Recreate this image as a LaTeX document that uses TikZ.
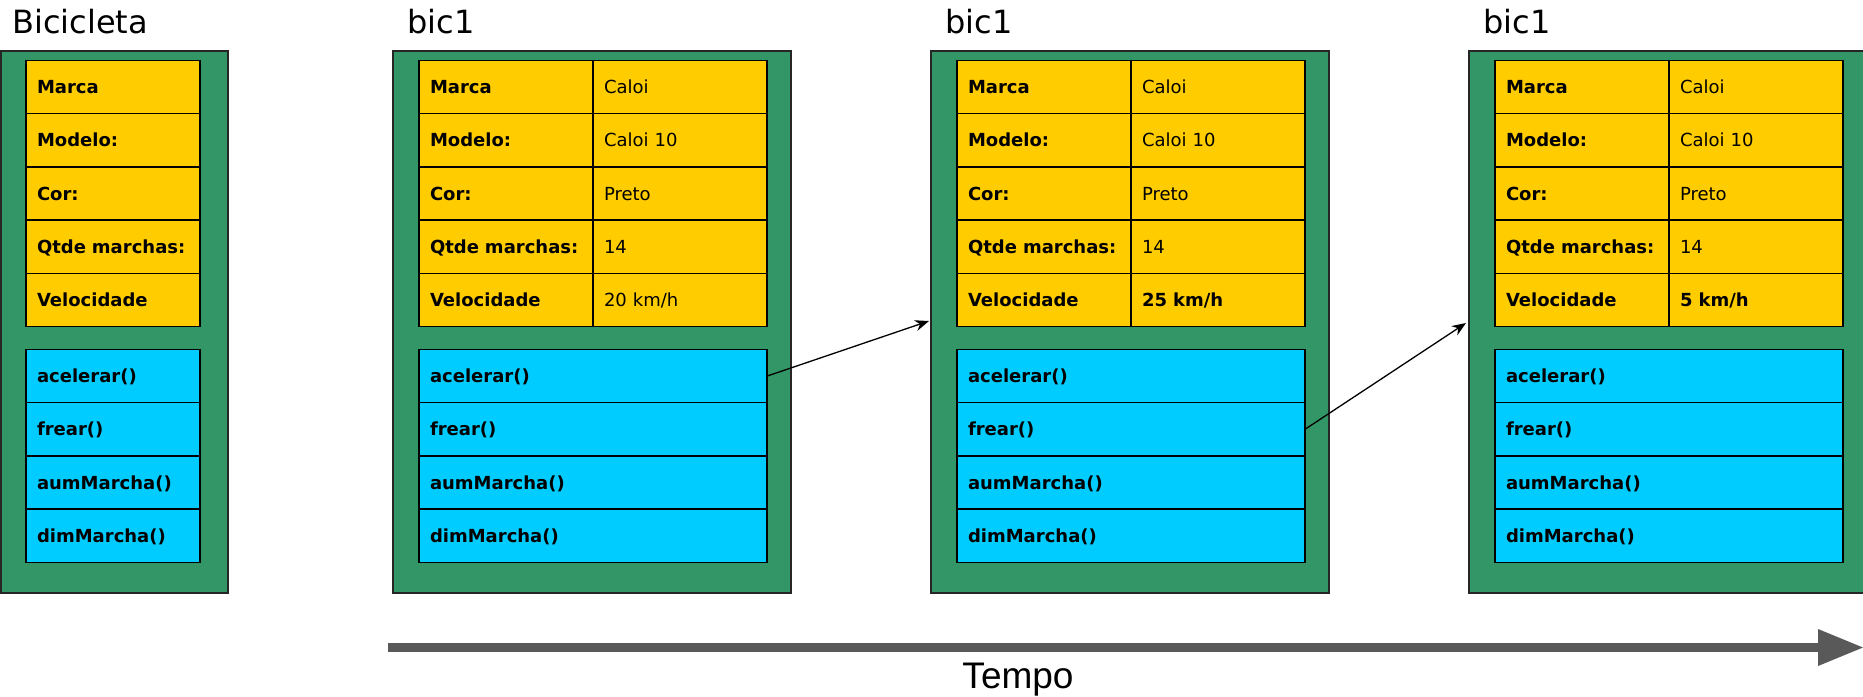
\documentclass[tikz,border=0pt]{standalone}
\usepackage{fontspec}
\setmainfont{DejaVu Sans}
\newfontfamily\tempofont{Liberation Sans}
\usetikzlibrary{arrows.meta}
\usetikzlibrary{positioning}

\definecolor{verde}{RGB}{51,150,102}
\definecolor{amarelo}{RGB}{255,204,0}
\definecolor{azul}{RGB}{0,204,255}
\definecolor{cinza}{RGB}{89,89,89}

\begin{document}
\begin{tikzpicture}[x=1pt,y=-1pt,
    caixa/.style={draw=black!85,fill=verde,line width=1.2pt,anchor=north west,
      inner sep=0pt,outer sep=0pt,minimum height=542pt},
    celula/.style={draw=black,line width=1.5pt,anchor=north west,inner xsep=11pt,
      inner ysep=0pt,outer sep=0pt,minimum height=53.2pt,text height=13pt,
      text depth=0pt,align=left,font=\fontsize{18}{21}\selectfont},
    chave/.style={celula,fill=amarelo,text width=152pt,font=\fontsize{18}{21}\selectfont\bfseries},
    valor/.style={celula,fill=amarelo,text width=152pt},
    metodo/.style={celula,fill=azul,font=\fontsize{18}{21}\selectfont\bfseries},
    titulo/.style={anchor=base west,inner sep=0pt,font=\fontsize{32}{36}\selectfont},
    seta/.style={-{Stealth[length=14pt,width=11pt]},line width=1.3pt},
    tempo/.style={draw=cinza,line width=8.4pt,-{Triangle[length=45pt,width=37pt,line width=0pt]}}]
  \useasboundingbox (0,0) rectangle (1863,696);

  % atributos e metodos de uma caixa
  \def\atributos#1#2{%
    \node[chave] (#1-k1) at (#2,60.5) {Marca};
    \node[chave,below=0pt of #1-k1] (#1-k2) {Modelo:};
    \node[chave,below=0pt of #1-k2] (#1-k3) {Cor:};
    \node[chave,below=0pt of #1-k3] (#1-k4) {Qtde marchas:};
    \node[chave,below=0pt of #1-k4] (#1-k5) {Velocidade};
  }
  \def\metodos#1#2#3{%
    \node[metodo,text width=#3] (#1-m1) at (#2,349.5) {acelerar()};
    \node[metodo,text width=#3,below=0pt of #1-m1] (#1-m2) {frear()};
    \node[metodo,text width=#3,below=0pt of #1-m2] (#1-m3) {aumMarcha()};
    \node[metodo,text width=#3,below=0pt of #1-m3] (#1-m4) {dimMarcha()};
  }
  % um objeto bic1
  \def\objeto#1#2#3{%
    \node[caixa,minimum width=398pt] (#1) at (#2,51) {};
    \node[titulo] (#1-t) at (#2+14,33) {bic1};
    \atributos{#1}{#2+26}
    \node[valor,right=0pt of #1-k1] (#1-v1) {Caloi};
    \node[valor,right=0pt of #1-k2] (#1-v2) {Caloi 10};
    \node[valor,right=0pt of #1-k3] (#1-v3) {Preto};
    \node[valor,right=0pt of #1-k4] (#1-v4) {14};
    \node[valor,right=0pt of #1-k5] (#1-v5) {#3};
    \metodos{#1}{#2+26}{326pt}
  }

  % classe
  \node[caixa,minimum width=227pt] (classe) at (1,51) {};
  \node[titulo] (classe-t) at (12,33) {Bicicleta};
  \atributos{classe}{26}
  \metodos{classe}{26}{152pt}

  % instancias
  \objeto{b1}{393}{20 km/h}
  \objeto{b2}{931}{\bfseries 25 km/h}
  \objeto{b3}{1469}{\bfseries 5 km/h}

  \coordinate (b2-in) at (929,321);
  \coordinate (b3-in) at (1466,323);
  \draw[seta] (b1-m1.east) -- (b2-in);
  \draw[seta] (b2-m2.east) -- (b3-in);

  % linha do tempo
  \coordinate (t0) at (388,647.5);
  \coordinate (t1) at (1863,647.5);
  \draw[tempo] (t0) -- (t1);
  \node[anchor=base,inner sep=0pt,font=\tempofont\fontsize{37}{40}\selectfont] (rotulo) at (1018,688) {Tempo};
\end{tikzpicture}
\end{document}
